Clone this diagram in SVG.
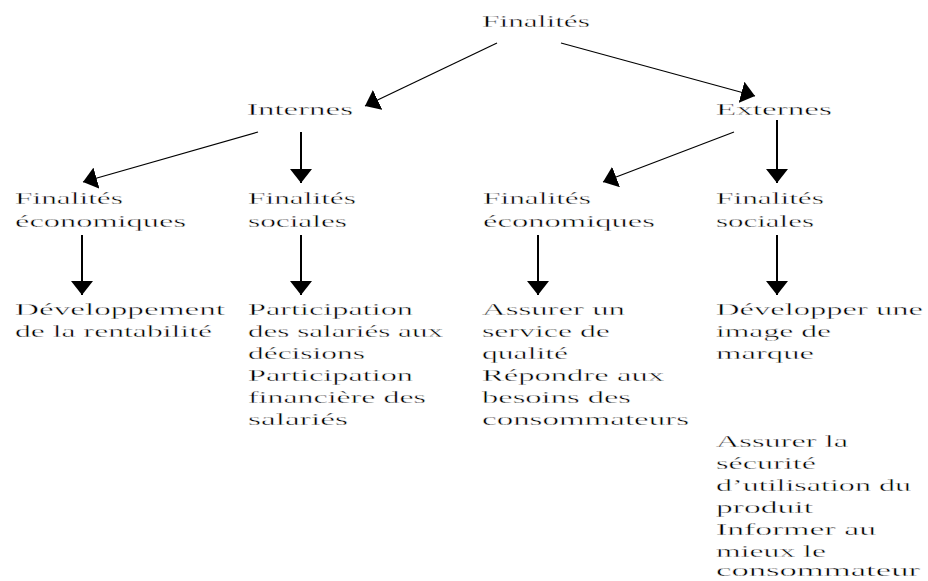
<svg xmlns="http://www.w3.org/2000/svg" width="928" height="581" viewBox="0 0 928 581">
<style>
text{font-family:'Liberation Serif','Times New Roman',serif;font-size:17.5px;fill:#000;stroke:#fff;stroke-width:0.35px}
.d{stroke:#000;stroke-width:1.2;fill:none}
.v{stroke:#000;stroke-width:2;fill:none}
</style>
<defs>
<marker id="ah" viewBox="0 0 14 22" refX="14" refY="11" markerWidth="14" markerHeight="22" markerUnits="userSpaceOnUse" orient="auto">
<path d="M0,0 L14,11 L0,22 z" fill="#000"/>
</marker>
</defs>
<rect width="928" height="581" fill="#fff"/>
<g id="connectors">
<line class="d" x1="497" y1="43" x2="365" y2="106" marker-end="url(#ah)"/>
<line class="d" x1="561" y1="43" x2="755" y2="96" marker-end="url(#ah)"/>
<line class="d" x1="258" y1="132" x2="83" y2="182" marker-end="url(#ah)"/>
<line class="v" x1="301" y1="132" x2="301" y2="183" marker-end="url(#ah)"/>
<line class="d" x1="734" y1="132" x2="603" y2="182" marker-end="url(#ah)"/>
<line class="v" x1="777" y1="120" x2="777" y2="183" marker-end="url(#ah)"/>
<line class="v" x1="82" y1="235" x2="82" y2="295" marker-end="url(#ah)"/>
<line class="v" x1="301" y1="235" x2="301" y2="295" marker-end="url(#ah)"/>
<line class="v" x1="538" y1="235" x2="538" y2="295" marker-end="url(#ah)"/>
<line class="v" x1="777" y1="235" x2="777" y2="295" marker-end="url(#ah)"/>
</g>
<g font-family="Liberation Serif, serif">
<g id="finalites">
<text x="482" y="27" textLength="108" lengthAdjust="spacingAndGlyphs">Finalités</text>
</g>
<g id="internes">
<text x="247" y="115" textLength="106" lengthAdjust="spacingAndGlyphs">Internes</text>
</g>
<g id="externes">
<text x="716" y="115" textLength="116" lengthAdjust="spacingAndGlyphs">Externes</text>
</g>
<g id="int-eco">
<text x="15" y="204" textLength="108" lengthAdjust="spacingAndGlyphs">Finalités</text>
<text x="15" y="227" textLength="171" lengthAdjust="spacingAndGlyphs">économiques</text>
</g>
<g id="int-soc">
<text x="248" y="204" textLength="108" lengthAdjust="spacingAndGlyphs">Finalités</text>
<text x="248" y="227" textLength="99" lengthAdjust="spacingAndGlyphs">sociales</text>
</g>
<g id="ext-eco">
<text x="483" y="204" textLength="108" lengthAdjust="spacingAndGlyphs">Finalités</text>
<text x="483" y="227" textLength="172" lengthAdjust="spacingAndGlyphs">économiques</text>
</g>
<g id="ext-soc">
<text x="716" y="204" textLength="108" lengthAdjust="spacingAndGlyphs">Finalités</text>
<text x="716" y="227" textLength="98" lengthAdjust="spacingAndGlyphs">sociales</text>
</g>
<g id="int-eco-detail">
<text x="15" y="315" textLength="210" lengthAdjust="spacingAndGlyphs">Développement</text>
<text x="15" y="337" textLength="197" lengthAdjust="spacingAndGlyphs">de la rentabilité</text>
</g>
<g id="int-soc-detail">
<text x="248" y="315" textLength="165" lengthAdjust="spacingAndGlyphs">Participation</text>
<text x="248" y="337" textLength="195" lengthAdjust="spacingAndGlyphs">des salariés aux</text>
<text x="248" y="359" textLength="117" lengthAdjust="spacingAndGlyphs">décisions</text>
<text x="248" y="381" textLength="165" lengthAdjust="spacingAndGlyphs">Participation</text>
<text x="248" y="403" textLength="178" lengthAdjust="spacingAndGlyphs">financière des</text>
<text x="248" y="425" textLength="100" lengthAdjust="spacingAndGlyphs">salariés</text>
</g>
<g id="ext-eco-detail">
<text x="482" y="315" textLength="143" lengthAdjust="spacingAndGlyphs">Assurer un</text>
<text x="482" y="337" textLength="128" lengthAdjust="spacingAndGlyphs">service de</text>
<text x="482" y="359" textLength="86" lengthAdjust="spacingAndGlyphs">qualité</text>
<text x="482" y="381" textLength="182" lengthAdjust="spacingAndGlyphs">Répondre aux</text>
<text x="482" y="403" textLength="149" lengthAdjust="spacingAndGlyphs">besoins des</text>
<text x="482" y="425" textLength="207" lengthAdjust="spacingAndGlyphs">consommateurs</text>
</g>
<g id="ext-soc-detail">
<text x="716" y="315" textLength="207" lengthAdjust="spacingAndGlyphs">Développer une</text>
<text x="716" y="337" textLength="115" lengthAdjust="spacingAndGlyphs">image de</text>
<text x="716" y="359" textLength="98" lengthAdjust="spacingAndGlyphs">marque</text>
</g>
<g id="ext-soc-detail-2">
<text x="716" y="447" textLength="132" lengthAdjust="spacingAndGlyphs">Assurer la</text>
<text x="716" y="469" textLength="100" lengthAdjust="spacingAndGlyphs">sécurité</text>
<text x="716" y="491" textLength="195" lengthAdjust="spacingAndGlyphs">d’utilisation du</text>
<text x="716" y="513" textLength="97" lengthAdjust="spacingAndGlyphs">produit</text>
<text x="716" y="535" textLength="160" lengthAdjust="spacingAndGlyphs">Informer au</text>
<text x="716" y="557" textLength="110" lengthAdjust="spacingAndGlyphs">mieux le</text>
<text x="716" y="576" textLength="204" lengthAdjust="spacingAndGlyphs">consommateur</text>
</g>
</g>
</svg>
